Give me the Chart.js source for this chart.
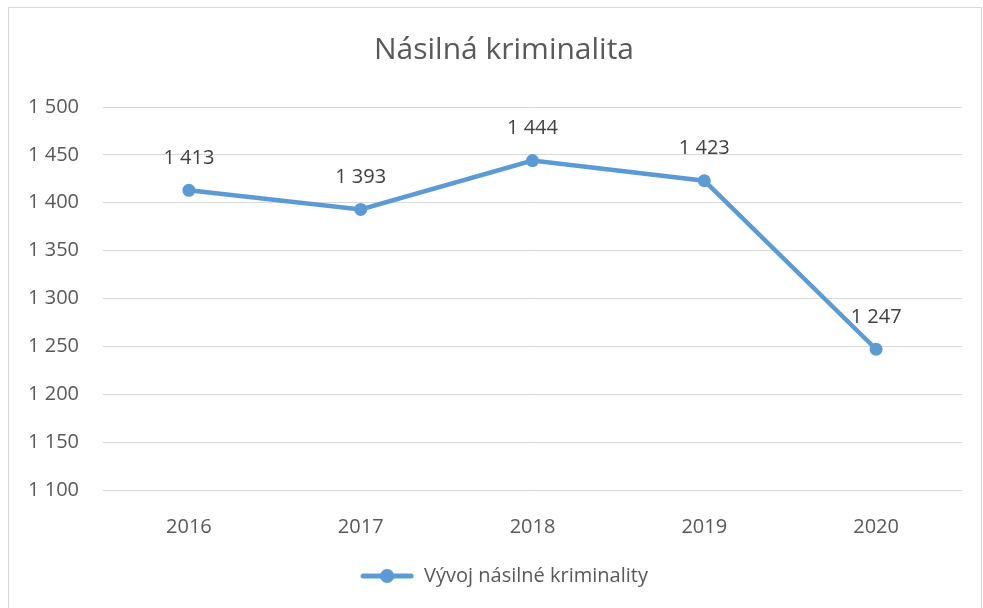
<!DOCTYPE html>
<html>
<head>
<meta charset="utf-8">
<script src="https://cdn.jsdelivr.net/npm/chart.js@4.4.0/dist/chart.umd.min.js"></script>
<style>
  html, body { margin: 0; padding: 0; background: #fff; }
  #wrap { position: relative; width: 983px; height: 608px; }
  #frame { position: absolute; left: 8px; top: 7px; width: 972px; height: 610px;
           border: 1px solid #d9d9d9; pointer-events: none; }
</style>
</head>
<body>
<div id="wrap">
  <canvas id="graphCanvas" width="983" height="608"></canvas>
  <div id="frame"></div>
</div>
<script>
var years = ['2016', '2017', '2018', '2019', '2020'];
var cases = [1413, 1393, 1444, 1423, 1247];
var yTicks = [1100, 1150, 1200, 1250, 1300, 1350, 1400, 1450, 1500];

var lineColor = '#5B9BD5';
var textColor = '#595959';
var fontName = "'Open Sans', 'Noto Sans', sans-serif";

function formatNum(v) {
    return String(v).replace(/\B(?=(\d{3})+(?!\d))/g, ' ');
}

// legend marker: line with a dot in the middle
function legendMarker() {
    var c = document.createElement('canvas');
    c.width = 54;
    c.height = 16;
    var ctx = c.getContext('2d');
    ctx.strokeStyle = lineColor;
    ctx.lineWidth = 5;
    ctx.lineCap = 'round';
    ctx.beginPath();
    ctx.moveTo(3, 8);
    ctx.lineTo(51, 8);
    ctx.stroke();
    ctx.fillStyle = lineColor;
    ctx.beginPath();
    ctx.arc(27, 8, 7, 0, Math.PI * 2);
    ctx.fill();
    return c;
}

var valueLabels = {
    id: 'valueLabels',
    afterLayout: function(chart) {
        // let the y tick labels spill into the left padding without clipping
        chart.scales.y.left = 0;
    },
    afterDatasetsDraw: function(chart) {
        var ctx = chart.ctx;
        var meta = chart.getDatasetMeta(0);
        ctx.save();
        ctx.font = '20px ' + fontName;
        ctx.fillStyle = '#404040';
        ctx.textAlign = 'center';
        ctx.textBaseline = 'middle';
        meta.data.forEach(function(pt, i) {
            ctx.fillText(formatNum(chart.data.datasets[0].data[i]), pt.x, pt.y - 32);
        });
        ctx.restore();
    }
};

var chartdata = {
    labels: years,
    datasets: [{
        label: 'Vývoj násilné kriminality',
        data: cases,
        borderColor: lineColor,
        backgroundColor: lineColor,
        borderWidth: 4.5,
        pointRadius: 6.5,
        pointHoverRadius: 6.5,
        pointBackgroundColor: lineColor,
        pointBorderWidth: 0,
        tension: 0
    }]
};

var graph = new Chart(document.getElementById('graphCanvas'), {
    type: 'line',
    data: chartdata,
    plugins: [valueLabels],
    options: {
        responsive: false,
        animation: false,
        layout: { padding: { left: 46, right: 21, top: 18, bottom: 12 } },
        plugins: {
            title: {
                display: true,
                text: 'Násilná kriminalita',
                color: textColor,
                font: { family: fontName, size: 30, weight: 'normal' },
                padding: { top: 14, bottom: 39 }
            },
            legend: {
                position: 'bottom',
                labels: {
                    usePointStyle: true,
                    pointStyle: legendMarker(),
                    pointStyleWidth: 54,
                    color: textColor,
                    font: { family: fontName, size: 20 },
                    padding: 10
                }
            },
            tooltip: { enabled: false }
        },
        scales: {
            x: {
                offset: true,
                afterFit: function(scale) { scale.height = 66; },
                grid: { display: false },
                border: { display: false },
                ticks: {
                    color: textColor,
                    font: { family: fontName, size: 20 },
                    padding: 17
                }
            },
            y: {
                min: yTicks[0],
                max: yTicks[yTicks.length - 1],
                afterBuildTicks: function(scale) {
                    scale.ticks = yTicks.map(function(v) { return { value: v }; });
                },
                afterFit: function(scale) { scale.width = 57; },
                grid: { color: '#d9d9d9', lineWidth: 1, drawTicks: false },
                border: { display: false },
                ticks: {
                    color: textColor,
                    font: { family: fontName, size: 20 },
                    padding: 24,
                    callback: function(v) { return formatNum(v); }
                }
            }
        }
    }
});
</script>
</body>
</html>
